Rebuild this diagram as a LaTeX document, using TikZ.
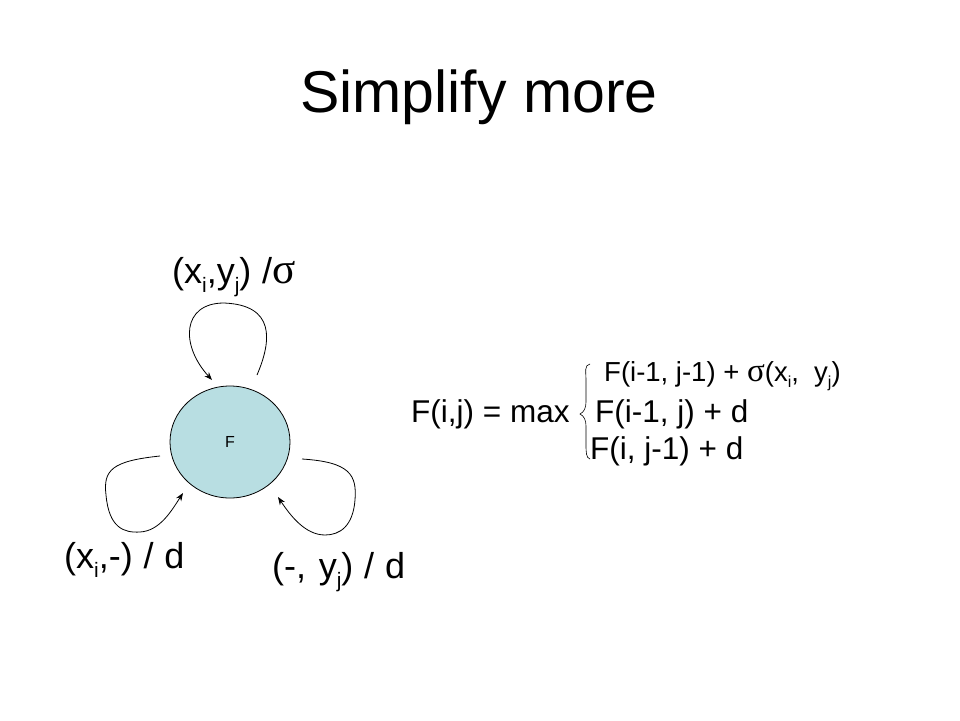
\documentclass[tikz,border=0pt]{standalone}
\usepackage{fontspec}
\setmainfont{Liberation Sans}
\newfontfamily\symfont{Liberation Serif}
\usetikzlibrary{arrows.meta,shapes.geometric}
\newcommand{\sbi}[1]{\raisebox{-0.25em}{\fontsize{0.58em}{0.58em}\selectfont #1}}
\newcommand{\sig}{{\symfont\fontsize{1.2em}{1.2em}\selectfont σ}}
\begin{document}
\begin{tikzpicture}[x=1pt,y=-1pt,
  lbl/.style={inner sep=0pt,anchor=base west,font=\fontsize{36}{37}\selectfont},
  eq/.style={inner sep=0pt,anchor=base west,font=\fontsize{31.5}{32}\selectfont},
  eqs/.style={inner sep=0pt,anchor=base west,font=\fontsize{27.5}{28}\selectfont},
  loop/.style={draw=black,line width=0.8pt,-{Stealth[length=8pt,width=6pt]}}]
\useasboundingbox[fill=white] (0,0) rectangle (960,720);
\node[inner sep=0pt,anchor=base,font=\fontsize{59}{60}\selectfont] (title) at (479,112) {Simplify more};
\node[draw=black,line width=0.8pt,fill={rgb,255:red,184;green,222;blue,226},ellipse,minimum width=120pt,minimum height=112pt,inner sep=0pt,font=\fontsize{16}{16}\selectfont] (F) at (230,442) {F};
% loops
\coordinate (t1) at (257,375); \coordinate (t2) at (212,380);
\coordinate (l1) at (160,456); \coordinate (l2) at (183,493);
\coordinate (r1) at (302,459); \coordinate (r2) at (278,497);
\draw[loop] (t1) .. controls (272,340) and (275,305) .. (224,303) .. controls (182,303) and (180,345) .. (t2);
\draw[loop] (l1) .. controls (112,461) and (103,470) .. (106,495) .. controls (109,528) and (124,533) .. (140,532) .. controls (160,531) and (172,510) .. (l2);
\draw[loop] (r1) .. controls (350,462) and (357,475) .. (355,500) .. controls (353,526) and (340,535) .. (325,535) .. controls (305,535) and (290,515) .. (r2);
% labels
\node[lbl] (lt) at (172,283) {(x\sbi{i},y\sbi{j})\hspace{0.3em}/\sig};
\node[lbl] (ll) at (64,568) {(x\sbi{i},-)\hspace{0.3em}/\hspace{0.3em}d};
\node[lbl] (lr) at (272,578) {(-,\hspace{0.35em}y\sbi{j})\hspace{0.3em}/\hspace{0.3em}d};
% formula
\node[eq] (lhs) at (411,422) {F(i,j) = max};
\node[eqs] (e1) at (604,381) {F(i-1, j-1) + \sig(x\sbi{i}, \ y\sbi{j})};
\node[eq] (e2) at (595,422) {F(i-1, j) + d};
\node[eq] (e3) at (590,459) {F(i, j-1) + d};
\coordinate (bt) at (590,364); \coordinate (bb) at (590,459);
\draw[line width=0.6pt] (bt) .. controls (584,365) and (586,372) .. (586,380) -- (586,402) .. controls (586,408) and (584,412) .. (580,414) .. controls (584,416) and (586,420) .. (586,426) -- (586,444) .. controls (586,452) and (586,458) .. (bb);
\end{tikzpicture}
\end{document}
